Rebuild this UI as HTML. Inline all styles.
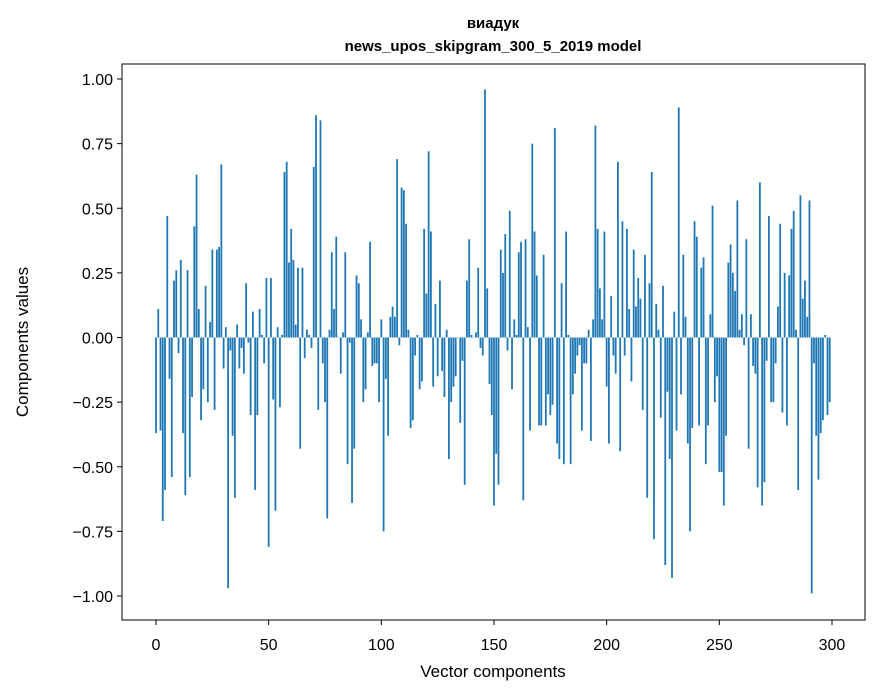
<!DOCTYPE html>
<html><head><meta charset="utf-8"><style>
body{margin:0;background:#fff;}
svg{display:block;font-family:"Liberation Sans","DejaVu Sans",sans-serif;}
</style></head><body>
<svg id="chart" width="880" height="696">
<rect width="880" height="696" fill="#fff"/>
<text x="493" y="28" text-anchor="middle" font-size="15" font-weight="bold">виадук</text>
<text x="493" y="51" text-anchor="middle" font-size="15" font-weight="bold">news_upos_skipgram_300_5_2019 model</text>
<g id="bars"></g>
<g id="axes"></g>
<rect x="122" y="64" width="743" height="556" fill="none" stroke="#000" stroke-width="1"/>
<text x="493" y="677" text-anchor="middle" font-size="17">Vector components</text>
<text x="28" y="342" text-anchor="middle" font-size="17" transform="rotate(-90 28 342)">Components values</text>
</svg>
<script>
const values = [
-0.37,0.11,-0.36,-0.71,-0.59,0.47,-0.16,-0.54,0.22,0.26,-0.06,0.30,-0.37,-0.61,0.26,-0.54,-0.23,0.43,0.63,0.11,
-0.32,-0.20,0.20,-0.25,0.06,0.34,-0.28,0.34,0.35,0.67,-0.12,0.04,-0.97,-0.05,-0.38,-0.62,0.05,-0.12,-0.04,-0.14,
0.21,-0.02,-0.30,0.10,-0.59,-0.30,0.11,0.01,-0.10,0.23,-0.81,
0.23,-0.24,-0.67,0.04,-0.27,0.01,0.64,0.68,0.29,0.42,0.30,0.05,0.27,-0.43,0.27,-0.08,0.03,0.01,-0.04,0.66,
0.86,-0.28,0.84,-0.10,-0.25,-0.70,0.03,0.33,0.11,0.39,0.00,-0.14,0.02,0.33,-0.49,-0.02,-0.64,-0.43,0.24,0.21,
0.07,-0.25,-0.20,0.02,0.37,-0.11,-0.10,-0.10,-0.25,0.07,-0.75,
-0.16,-0.38,0.08,0.12,0.08,0.69,-0.03,0.58,0.57,0.44,0.03,-0.35,-0.32,-0.07,0.01,-0.20,-0.17,0.42,0.17,0.72,
0.41,-0.19,0.13,-0.15,0.22,-0.13,-0.23,0.03,-0.47,-0.25,-0.19,-0.15,0.00,-0.33,-0.09,-0.57,0.22,0.38,0.01,0.00,
0.02,0.27,-0.04,-0.07,0.96,0.19,-0.18,-0.30,-0.65,-0.45,-0.57,
0.34,0.25,0.40,-0.05,0.49,-0.20,0.07,0.01,0.33,0.37,-0.63,0.38,0.04,-0.36,0.75,0.41,0.24,-0.34,-0.34,0.32,
-0.34,-0.22,-0.30,-0.26,0.81,-0.41,-0.47,0.21,-0.49,0.41,0.01,-0.49,-0.22,-0.14,-0.07,-0.03,-0.36,-0.10,-0.10,0.03,
-0.40,0.07,0.82,0.42,0.19,0.07,0.41,-0.19,-0.41,0.16,-0.07,
-0.14,0.68,-0.44,0.45,-0.07,0.42,0.11,-0.17,0.34,0.12,0.23,0.15,-0.28,0.32,-0.62,0.21,0.64,-0.78,0.13,0.03,
-0.31,0.20,-0.88,-0.21,-0.47,-0.93,0.10,-0.36,0.89,-0.22,0.32,0.08,-0.41,-0.75,-0.35,0.45,0.39,-0.34,0.27,0.31,
-0.49,-0.34,0.09,0.51,-0.25,-0.15,-0.52,-0.52,-0.65,-0.38,0.29,
0.36,0.25,0.18,0.53,0.03,0.09,-0.03,0.38,-0.43,0.09,-0.11,-0.14,-0.58,0.60,-0.65,-0.56,-0.09,0.47,-0.25,-0.25,
-0.10,0.12,0.44,-0.29,0.25,-0.34,0.24,0.42,0.49,0.03,-0.59,0.55,0.15,0.22,0.08,0.53,-0.99,-0.10,-0.38,-0.55,
-0.37,-0.32,0.01,-0.30,-0.25
];
const xTicks = [0,50,100,150,200,250,300];
const yTicks = [-1.00,-0.75,-0.50,-0.25,0.00,0.25,0.50,0.75,1.00];

const NS = "http://www.w3.org/2000/svg";
function xs(c){ return 156 + 2.2533*c; }
function ys(v){ return 337.5 - 258.5*v; }

const barsG = document.getElementById('bars');
values.forEach(function(v,i){
  const r = document.createElementNS(NS,'rect');
  const y0 = ys(Math.max(v,0)), y1 = ys(Math.min(v,0));
  r.setAttribute('x', xs(i) - 0.9);
  r.setAttribute('y', y0);
  r.setAttribute('width', 1.8);
  r.setAttribute('height', Math.max(y1 - y0, 0.3));
  r.setAttribute('fill', '#1f77b4');
  
  
  barsG.appendChild(r);
});

const axesG = document.getElementById('axes');
xTicks.forEach(function(t){
  const x = xs(t);
  const l = document.createElementNS(NS,'line');
  l.setAttribute('x1',x); l.setAttribute('x2',x);
  l.setAttribute('y1',620); l.setAttribute('y2',625);
  l.setAttribute('stroke','#000');
  
  
  axesG.appendChild(l);
  const tx = document.createElementNS(NS,'text');
  tx.setAttribute('x',x); tx.setAttribute('y',650);
  tx.setAttribute('text-anchor','middle'); tx.setAttribute('font-size','16');
  tx.textContent = t;
  
  
  axesG.appendChild(tx);
});
yTicks.forEach(function(t){
  const y = ys(t);
  const l = document.createElementNS(NS,'line');
  l.setAttribute('x1',117); l.setAttribute('x2',122);
  l.setAttribute('y1',y); l.setAttribute('y2',y);
  l.setAttribute('stroke','#000');
  
  
  axesG.appendChild(l);
  const tx = document.createElementNS(NS,'text');
  tx.setAttribute('x',113); tx.setAttribute('y',y+6);
  tx.setAttribute('text-anchor','end'); tx.setAttribute('font-size','16');
  tx.textContent = (t<0?'\u2212':'') + Math.abs(t).toFixed(2);
  
  
  axesG.appendChild(tx);
});
</script>
</body></html>
